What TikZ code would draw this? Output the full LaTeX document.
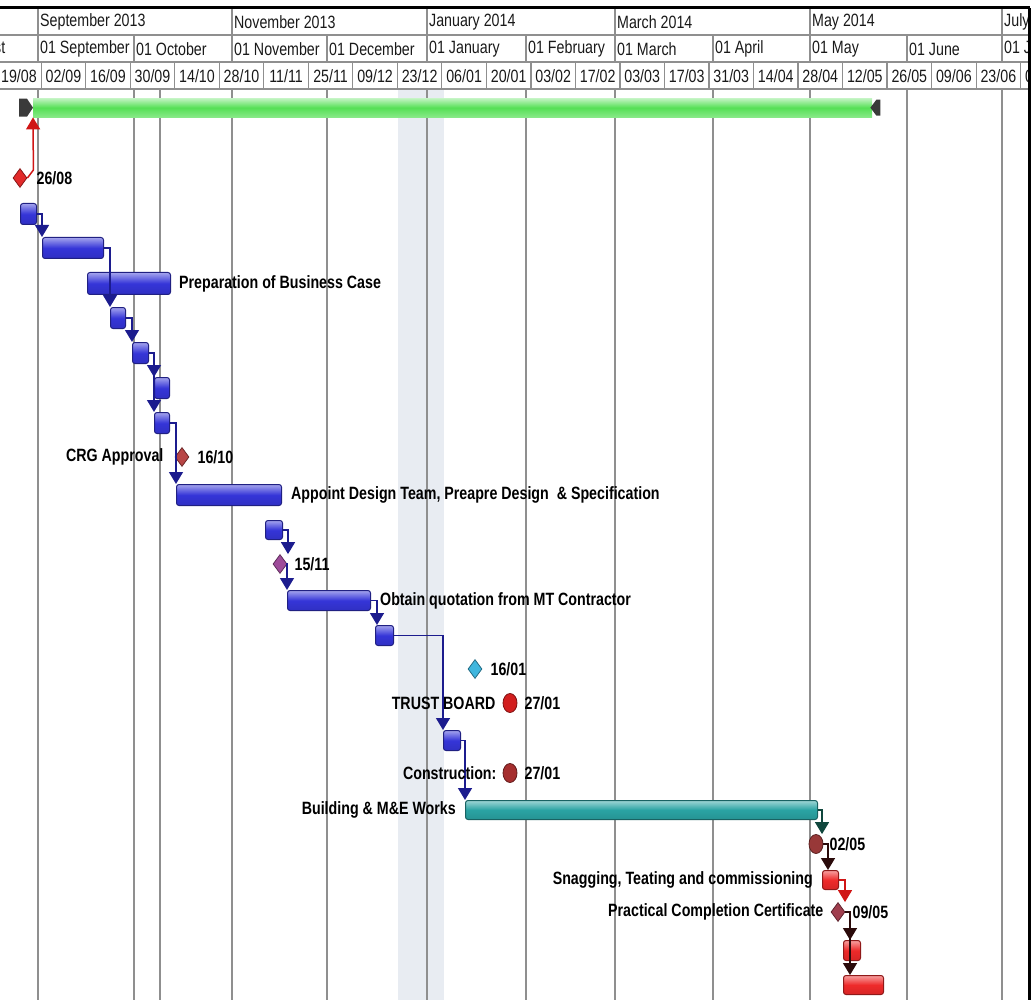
\documentclass[tikz,border=0pt]{standalone}
\usepackage{fontspec}
\setmainfont{Liberation Sans}[FakeStretch=0.8]
\usetikzlibrary{positioning,shapes.geometric,arrows.meta}

\definecolor{taskblue}{HTML}{3535D8}
\definecolor{taskteal}{HTML}{2AA3A3}
\definecolor{taskred}{HTML}{EE2A2A}
\definecolor{sumgreen}{HTML}{55E055}
\definecolor{linkblue}{HTML}{1C1C8E}
\definecolor{linkteal}{HTML}{10473D}
\definecolor{linkred}{HTML}{D01515}
\definecolor{linkdark}{HTML}{2A0A0A}
\definecolor{gridgrey}{HTML}{8F8F8F}
\definecolor{holiday}{HTML}{E8ECF2}
\definecolor{capgrey}{HTML}{3A3A3A}
\definecolor{msred}{HTML}{E22A2A}
\definecolor{msbrown}{HTML}{B84545}
\definecolor{mspurple}{HTML}{9E4C9A}
\definecolor{mscyan}{HTML}{3FB6DE}
\definecolor{mstrust}{HTML}{D21E1E}
\definecolor{mscons}{HTML}{A52E2E}
\definecolor{msdark}{HTML}{983838}
\definecolor{mswine}{HTML}{A03E4E}

\tikzset{
  hdr/.style={font=\fontsize{17.8}{20}\selectfont, inner sep=0pt, text=black!90},
  lbl/.style={font=\fontsize{17.8}{20}\selectfont\bfseries, inner sep=0pt, text=black},
  hline/.style={draw=gridgrey, line width=1.2pt},
  vgrid/.style={draw=gridgrey, line width=1.6pt},
  taskbar/.style={anchor=north west, inner sep=0pt, rounded corners=2.5pt, line width=1pt,
    draw=#1!60!black, top color=#1!45!white, bottom color=#1!90!black, middle color=#1},
  sumbar/.style={anchor=north west, inner sep=0pt,
    top color=sumgreen!35!white, bottom color=sumgreen!70!white, middle color=sumgreen},
  ms/.style={diamond, draw=#1!60!black, fill=#1, line width=0.8pt, inner sep=0pt,
    minimum width=14pt, minimum height=19pt},
  msround/.style={ellipse, draw=#1!60!black, fill=#1, line width=0.8pt, inner sep=0pt,
    minimum width=14pt, minimum height=19pt},
  link/.style={draw=#1, line width=1.5pt, -{Triangle[width=14pt,length=12pt,fill=#1]}}
}

\begin{document}
\begin{tikzpicture}[x=1pt,y=-1pt]
\useasboundingbox (0,0) rectangle (1033,1000);

% timescale
\begin{scope}
\clip (0,0) rectangle (1028,90);
\draw[hline] (0,35) -- (1028,35);
\draw[hline] (0,62) -- (1028,62);
\draw[hline] (0,89) -- (1028,89);
\foreach \x in {38,232,427,615,810,1002}
  \draw[hline] (\x,8) -- (\x,35);
\foreach \x in {38,134,232,327,427,526,615,713,810,907,1002}
  \draw[hline] (\x,35) -- (\x,62);
\foreach \k in {-1,...,22}
  \draw[hline] ({41.2+44.52*\k},62) -- ({41.2+44.52*\k},89);
\foreach \x/\t [count=\i] in {38/September 2013,232/November 2013,427/January 2014,
    615/March 2014,810/May 2014,1002/July 2014}
  \node[hdr, anchor=west] (mon\i) at ({\x+2},22) {\t};
\foreach \x/\t [count=\i] in {-61/01 August,38/01 September,134/01 October,232/01 November,
    327/01 December,427/01 January,526/01 February,615/01 March,713/01 April,
    810/01 May,907/01 June,1002/01 July}
  \node[hdr, anchor=west] (day\i) at ({\x+2},49) {\t};
\foreach \t [count=\k] in {19/08,02/09,16/09,30/09,14/10,28/10,11/11,25/11,09/12,23/12,
    06/01,20/01,03/02,17/02,03/03,17/03,31/03,14/04,28/04,12/05,26/05,09/06,23/06,07/07}
  \node[hdr] (wk\k) at ({41.2+44.52*(\k-2)+22.26},76) {\t};
\end{scope}
\draw[line width=3pt] (0,8) -- (1030,8);
\draw[line width=3pt] (1029,8) -- (1029,1000);

% grid
\fill[holiday] (398,90) rectangle (444,1000);
\foreach \x in {38,134,160,232,327,427,526,615,713,810,907,1002}
  \draw[vgrid] (\x,90) -- (\x,1000);

% summary
\node[sumbar, minimum width=839, minimum height=19] (sum) at (33,98) {};
\fill[capgrey] (sum.west) ++(-14,-9) -- ++(8,0) -- ++(6,9) -- ++(-6,9) -- ++(-8,0) -- cycle;
\fill[capgrey] (sum.east) ++(-2,0) -- ++(6,-8) -- ++(4,0) -- ++(0,16) -- ++(-4,0) -- cycle;

% tasks
\node[taskbar=taskblue, minimum width=16, minimum height=21] (t1) at (20,203) {};
\node[taskbar=taskblue, minimum width=61, minimum height=21] (t2) at (42,237) {};
\node[taskbar=taskblue, minimum width=83, minimum height=22] (t3) at (87,272) {};
\node[taskbar=taskblue, minimum width=15, minimum height=21] (t4) at (110,307) {};
\node[taskbar=taskblue, minimum width=16, minimum height=21] (t5) at (132,342) {};
\node[taskbar=taskblue, minimum width=15, minimum height=21] (t6) at (154,377) {};
\node[taskbar=taskblue, minimum width=15, minimum height=21] (t7) at (154,412) {};
\node[taskbar=taskblue, minimum width=105, minimum height=21] (t8) at (176,484) {};
\node[taskbar=taskblue, minimum width=17, minimum height=19] (t9) at (265,520) {};
\node[taskbar=taskblue, minimum width=83, minimum height=20] (t10) at (287,590) {};
\node[taskbar=taskblue, minimum width=18, minimum height=20] (t11) at (375,625) {};
\node[taskbar=taskblue, minimum width=17, minimum height=20] (t12) at (443,730) {};
\node[taskbar=taskteal, minimum width=352, minimum height=19] (t13) at (465,800) {};
\node[taskbar=taskred, minimum width=16, minimum height=19] (t14) at (822,870) {};
\node[taskbar=taskred, minimum width=17, minimum height=20] (t15) at (843,940) {};
\node[taskbar=taskred, minimum width=40, minimum height=19] (t16) at (843,975) {};

% milestones
\node[ms=msred] (m2608) at (20,178) {};
\node[ms=msbrown] (mcrg) at (182,457) {};
\node[ms=mspurple] (m1511) at (280,564) {};
\node[ms=mscyan] (m1601) at (475,669) {};
\node[msround=mstrust] (mtrust) at (510,703) {};
\node[msround=mscons] (mcons) at (510,773) {};
\node[msround=msdark] (m0205) at (816,844) {};
\node[ms=mswine] (m0905) at (838,912) {};

% links
\draw[link=linkred] (m2608.east) -- ++(6,-8) -- (sum.south west);
\draw[link=linkblue] (t1.east) -| (t2.north west);
\draw[link=linkblue] (t2.east) -| (t4.north west);
\draw[link=linkblue] (t4.east) -| (t5.north west);
\draw[link=linkblue] (t5.east) -| (t6.north west);
\draw[link=linkblue] (t5.east) -| (t7.north west);
\draw[link=linkblue] (t7.east) -| (t8.north west);
\draw[link=linkblue] (t9.east) -| ([xshift=8pt]m1511.north);
\draw[link=linkblue] (m1511.east) -| (t10.north west);
\draw[link=linkblue] (t10.east) -| ([xshift=2pt]t11.north west);
\draw[link=linkblue] (t11.east) -| (t12.north west);
\draw[link=linkblue] (t12.east) -| (t13.north west);
\draw[link=linkteal] (t13.east) -| ([xshift=6pt]m0205.north);
\draw[link=linkdark] (m0205.east) -| ([xshift=6pt]t14.north west);
\draw[link=linkred] (t14.east) -| ([xshift=7pt]m0905.north);
\draw[link=linkdark] (m0905.east) -| ([xshift=7pt]t15.north west);
\draw[link=linkdark] (m0905.east) -| ([xshift=7pt]t16.north west);

% labels
\node[lbl, right=9pt of m2608] (d2608) {26/08};
\node[lbl, right=8pt of t3] (l3) {Preparation of Business Case};
\node[lbl, left=11pt of mcrg] (lcrg) {CRG Approval};
\node[lbl, right=8pt of mcrg] (dcrg) {16/10};
\node[lbl, right=9pt of t8] (l8) {Appoint Design Team, Preapre Design\ \ \& Specification};
\node[lbl, right=7pt of m1511] (d1511) {15/11};
\node[lbl, right=9pt of t10] (l10) {Obtain quotation from MT Contractor};
\node[lbl, right=8pt of m1601] (d1601) {16/01};
\node[lbl, left=7pt of mtrust] (ltrust) {TRUST BOARD};
\node[lbl, right=7pt of mtrust] (dtrust) {27/01};
\node[lbl, left=6pt of mcons] (lcons) {Construction:};
\node[lbl, right=7pt of mcons] (dcons) {27/01};
\node[lbl, left=9pt of t13] (l13) {Building \& M\&E Works};
\node[lbl, right=6pt of m0205] (d0205) {02/05};
\node[lbl, left=9pt of t14] (l14) {Snagging, Teating and commissioning};
\node[lbl, left=7pt of m0905] (l0905) {Practical Completion Certificate};
\node[lbl, right=7pt of m0905] (d0905) {09/05};
\end{tikzpicture}
\end{document}
